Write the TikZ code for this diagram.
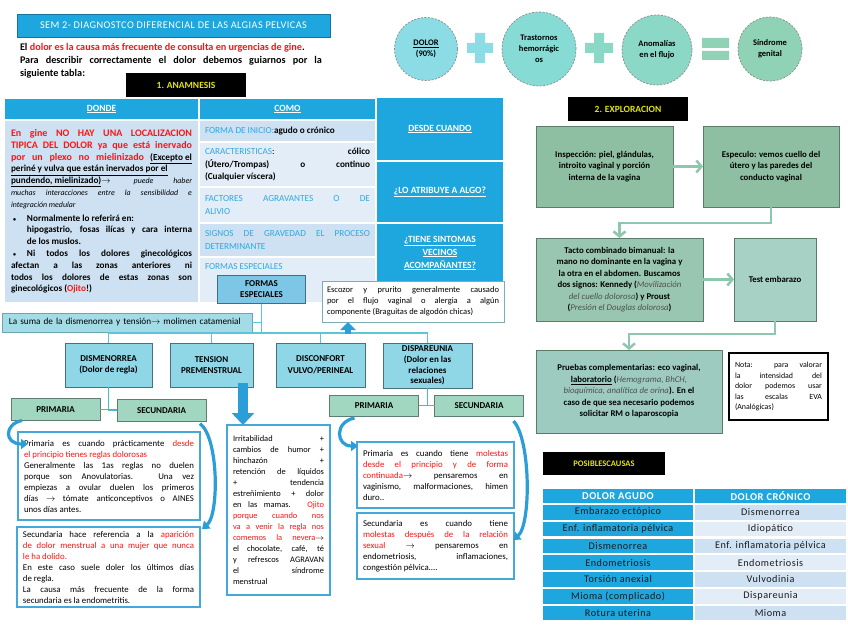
\documentclass[tikz,border=0pt]{standalone}
\usepackage{fontspec}
\setmainfont{Carlito}
\usetikzlibrary{calc, arrows.meta, positioning}
\definecolor{ccyan}{HTML}{1EA6DE}
\definecolor{clight}{HTML}{CDE1F2}
\definecolor{clighter}{HTML}{E3EDF7}
\definecolor{ckey}{HTML}{2BA9E1}
\definecolor{cred}{HTML}{FF1414}
\definecolor{cbox}{HTML}{8FD7E7}
\definecolor{cboxd}{HTML}{47717F}
\definecolor{cgrn}{HTML}{A1D7C1}
\definecolor{cgrnd}{HTML}{5F7E73}
\definecolor{cframe}{HTML}{45A8DA}
\definecolor{cline}{HTML}{5CC6D6}
\definecolor{carr}{HTML}{2B9ED8}
\definecolor{cexp}{HTML}{8EBFA3}
\definecolor{cexpt}{HTML}{98C6B0}
\definecolor{cexpe}{HTML}{A7D1C5}
\definecolor{cexpp}{HTML}{9DCBBF}
\definecolor{cexpd}{HTML}{5A7D68}
\definecolor{cexparr}{HTML}{8DC7AD}
\definecolor{cyel}{HTML}{E5E500}
\definecolor{cformas}{HTML}{7EC6E6}
\definecolor{cformasd}{HTML}{3F6E86}
\definecolor{csuma}{HTML}{A3DCE6}
\definecolor{csumad}{HTML}{6AA8B0}
\definecolor{cesc}{HTML}{7BAEB0}
\definecolor{cgray}{HTML}{505050}
\definecolor{cdash}{HTML}{8A8A8A}
\definecolor{cdark}{HTML}{1B1B1B}
\definecolor{cca}{HTML}{8BDCE5}
\definecolor{ccb}{HTML}{86DBD4}
\definecolor{ccc}{HTML}{8BD8C6}
\definecolor{ccd}{HTML}{90D2B6}
\newcommand{\kw}[1]{\textcolor{ckey}{#1}}
\newcommand{\rd}[1]{\textcolor{cred}{#1}}
\newcommand{\arr}{$\rightarrow$}
\newcommand{\bul}{\makebox[16pt][l]{\hspace{2pt}{\fontsize{6}{6}\selectfont\textbullet}}}
\hyphenpenalty=10000
\exhyphenpenalty=10000
\parindent=0pt

\begin{document}
\begin{tikzpicture}[x=1pt, y=-1pt,
    every node/.style={inner sep=0pt, outer sep=0pt},
    head/.style={fill=ccyan, text=white, font=\fontsize{9.5}{10}\selectfont\bfseries},
    tag/.style={fill=black, text=cyel, font=\fontsize{9.5}{10}\selectfont\bfseries},
    ball/.style={circle, draw=cdash, dash pattern=on 2pt off 1.5pt, line width=0.7pt, align=center, font=\fontsize{8.5}{11}\selectfont\bfseries},
    cell/.style={inner xsep=5pt, align=justify, font=\fontsize{9.2}{12.5}\selectfont},
    branch/.style={fill=cbox, draw=cboxd, line width=0.8pt, align=center, font=\fontsize{9}{11.5}\selectfont\bfseries},
    kind/.style={fill=cgrn, draw=cgrnd, line width=0.8pt, minimum width=89pt, minimum height=22pt, font=\fontsize{9}{10}\selectfont\bfseries},
    note/.style={draw=cframe, line width=1.4pt, fill=white, align=justify, inner xsep=6pt, font=\fontsize{8.8}{11}\selectfont},
    expbox/.style={draw=cexpd, line width=0.8pt, align=center, font=\fontsize{8.8}{11.5}\selectfont\bfseries},
    tree/.style={draw=cline, line width=1.2pt},
    curvarr/.style={draw=carr, line width=3.2pt, -{Triangle[width=10pt,length=7pt]}},
    flow/.style={draw=cexparr, line width=2.5pt, -{Straight Barb[width=12pt,length=5pt]}},
    row/.style={minimum width=150pt, minimum height=14.5pt, text=cdark, font=\fontsize{10.2}{11}\selectfont\addfontfeature{LetterSpace=5}}]
    \useasboundingbox (0,0) rectangle (848,636);
    \fill[white] (0,0) rectangle (848,636);

    % title and intro
    \node (title) [fill=ccyan, draw=ccyan!70!black, line width=0.5pt, text=white, minimum width=313pt, minimum height=23pt, font=\fontsize{10.3}{11}\selectfont\addfontfeature{LetterSpace=4}] at (173.5,25.5) {SEM 2- DIAGNOSTCO DIFERENCIAL DE LAS ALGIAS PELVICAS};
    \node (intro) [anchor=north west, text width=302pt, align=justify, font=\fontsize{10.2}{13}\selectfont\bfseries] at (20,43) {El \rd{dolor es la causa más frecuente de consulta en urgencias de gine}.\par Para describir correctamente el dolor debemos guiarnos por la\linebreak siguiente tabla:};
    \node (anam) [tag, minimum width=120pt, minimum height=24pt] at (186,85) {1. ANAMNESIS};

    % circles
    \node (dolor) [ball, fill=cca, minimum size=63pt] at (426,49) {\underline{DOLOR}\\(90\%)};
    \node (trast) [ball, fill=ccb, minimum size=74pt] at (539,49) {Trastornos\\hemorrágic\\os};
    \node (anom) [ball, fill=ccc, minimum size=70pt] at (657,50) {Anomalías\\en el flujo};
    \node (sindr) [ball, fill=ccd, minimum size=64pt] at (770,49) {Síndrome\\genital};
    \fill[cca] (475,33) rectangle (485,63) (467,43) rectangle (493,53);
    \fill[ccc] (594,33) rectangle (604,63) (585,43) rectangle (613,53);
    \fill[ccd] (702,38) rectangle (729,48) (702,51) rectangle (729,60);

    % anamnesis table
    \node (donde) [head, minimum width=193pt, minimum height=20pt] at (101.5,109) {\underline{DONDE}};
    \node (como) [head, minimum width=175pt, minimum height=20pt] at (287.5,109) {\underline{COMO}};
    \node (dtext) [cell, fill=clight, text width=181pt, minimum width=193pt, minimum height=181pt, font=\fontsize{9.2}{11.8}\selectfont\bfseries] at (101.5,211.5) {{\fontsize{10}{12}\selectfont\color{cred}En gine NO HAY UNA LOCALIZACION\linebreak TIPICA DEL DOLOR ya que está inervado\linebreak por un plexo no mielinizado} \underline{(Excepto el}\linebreak \underline{periné y vulva que están inervados por el}\linebreak \underline{pundendo, mielinizado)}\arr{} {\mdseries\itshape\fontsize{7.9}{11.8}\selectfont puede haber\linebreak muchas interacciones entre la sensibilidad e\linebreak integración medular}\par\vspace{2pt}
    \hangindent=16pt\hangafter=1 \bul Normalmente lo referirá en:\\ hipogastrio, fosas ilícas y cara interna\linebreak de los muslos.\par
    \hangindent=16pt\hangafter=1 \bul Ni todos los dolores ginecológicos\linebreak afectan a las zonas anteriores ni\linebreak todos los dolores de estas zonas son\linebreak ginecológicos (\rd{Ojito}!)};
    \node (c1) [cell, fill=clight, text width=165pt, minimum width=175pt, minimum height=20pt] at (287.5,131) {\kw{FORMA DE INICIO:}\textbf{agudo o crónico}};
    \node (c2) [cell, fill=clighter, text width=165pt, minimum width=175pt, minimum height=43pt] at (287.5,164.5) {\kw{CARACTERISTICAS}: \textbf{cólico}\linebreak \textbf{(Útero/Trompas) o continuo}\linebreak \textbf{(Cualquier víscera)}};
    \node (c3) [cell, fill=clighter, text width=165pt, minimum width=175pt, minimum height=34pt] at (287.5,205) {\kw{FACTORES AGRAVANTES O DE}\linebreak \kw{ALIVIO}};
    \node (c4) [cell, fill=clight, text width=165pt, minimum width=175pt, minimum height=32pt] at (287.5,240) {\kw{SIGNOS DE GRAVEDAD EL PROCESO}\linebreak \kw{DETERMINANTE}};
    \fill[clighter] (200,258) rectangle (375,302);
    \node (c5) [cell, text width=165pt, minimum width=175pt, minimum height=18pt] at (287.5,267) {\kw{FORMAS ESPECIALES}};
    \node (q1) [head, minimum width=126pt, minimum height=62pt] at (440,129) {\underline{DESDE CUANDO}};
    \node (q2) [head, minimum width=126pt, minimum height=60pt] at (440,192) {\underline{¿LO ATRIBUYE A ALGO?}};
    \node (q3) [head, minimum width=126pt, minimum height=58pt, align=center, font=\fontsize{9.5}{13}\selectfont\bfseries] at (440,253) {\underline{¿TIENE SINTOMAS}\\\underline{VECINOS}\\\underline{ACOMPAÑANTES?}};

    % formas especiales tree
    \node (formas) [fill=cformas, draw=cformasd, line width=0.8pt, minimum width=88pt, minimum height=28pt, align=center, font=\fontsize{9}{11}\selectfont\bfseries] at (261.5,289.5) {FORMAS\\ESPECIALES};
    \node (esc) [draw=cesc, line width=1pt, fill=white, minimum width=182pt, minimum height=41pt, text width=172pt, align=justify, font=\fontsize{8.5}{11}\selectfont] at (413,301.5) {Escozor y prurito generalmente causado\linebreak por el flujo vaginal o alergia a algún\linebreak componente (Braguitas de algodón chicas)};
    \node (suma) [fill=csuma, draw=csumad, line width=0.8pt, minimum width=250pt, minimum height=19pt, text width=236pt, align=left, font=\fontsize{9.2}{10}\selectfont] at (127,322.5) {La suma de la dismenorrea y tensión\arr{} molimen catamenial};
    \node (dism) [branch, minimum width=87pt, minimum height=44pt] at (108.5,365) {DISMENORREA\\(Dolor de regla)};
    \node (tens) [branch, minimum width=83pt, minimum height=44pt] at (211.5,365) {TENSION\\PREMENSTRUAL};
    \node (disc) [branch, minimum width=89pt, minimum height=44pt] at (320.5,365) {DISCONFORT\\VULVO/PERINEAL};
    \node (disp) [branch, minimum width=89pt, minimum height=45pt, font=\fontsize{9}{10.6}\selectfont\bfseries] at (427.5,365.5) {DISPAREUNIA\\(Dolor en las\\relaciones\\sexuales)};
    \coordinate (bar) at (261.5,333);
    \draw[tree] (formas) -- (bar);
    \draw[tree] (suma.east) -- (suma.east -| bar);
    \foreach \b in {dism, tens, disc, disp} \draw[tree] (\b.north) |- (bar);
    \coordinate (escfoot) at (348,334);
    \draw[draw=carr, line width=6pt, -{Triangle[width=15pt,length=8pt]}] (escfoot) -- (escfoot |- esc.south);

    \node (pm1) [kind] at (55.5,409.5) {PRIMARIA};
    \node (sc1) [kind] at (161.5,410.5) {SECUNDARIA};
    \node (pm2) [kind, minimum height=21pt] at (374,405.5) {PRIMARIA};
    \node (sc2) [kind, minimum height=21pt] at (479,405.5) {SECUNDARIA};
    \draw[tree, draw=cline!80!teal] (dism.south) |- (sc1.west);
    \draw[tree, draw=cline!80!teal] (pm1.east) -- (sc1.west |- pm1.east);
    \draw[tree, draw=cline!80!teal] (disp.south) -- (disp.south |- pm2.east);
    \draw[tree, draw=cline!80!teal] (pm2.east) -- (sc2.west);

    % text boxes
    \node (b1) [note, minimum width=182pt, minimum height=88pt, text width=170pt] at (109,476) {Primaria es cuando prácticamente \rd{desde}\linebreak \rd{el principio tienes reglas dolorosas}\par Generalmente las 1as reglas no duelen\linebreak porque son Anovulatorias. Una vez\linebreak empiezas a ovular duelen los primeros\linebreak días \arr{} tómate anticonceptivos o AINES\linebreak unos días antes.};
    \node (b2) [note, minimum width=183pt, minimum height=80pt, text width=171pt] at (108.5,567) {Secundaria hace referencia a la \rd{aparición}\linebreak \rd{de dolor menstrual a una mujer que nunca}\linebreak \rd{le ha dolido.}\par En este caso suele doler los últimos días\linebreak de regla.\par La causa más frecuente de la forma\linebreak secundaria es la endometritis.};
    \node (bt) [note, minimum width=103pt, minimum height=170pt, text width=91pt, font=\fontsize{8.4}{11}\selectfont] at (278.5,510) {Irritabilidad +\linebreak cambios de humor +\linebreak hinchazón +\linebreak retención de líquidos\linebreak + tendencia\linebreak estreñimiento + dolor\linebreak en las mamas. \rd{Ojito}\linebreak \rd{porque cuando nos}\linebreak \rd{va a venir la regla nos}\linebreak \rd{comemos la nevera}\arr\linebreak el chocolate, café, té\linebreak y refrescos AGRAVAN\linebreak el síndrome\linebreak menstrual};
    \node (b3) [note, minimum width=157pt, minimum height=66pt, text width=145pt] at (435.5,475) {Primaria es cuando tiene \rd{molestas}\linebreak \rd{desde el principio y de forma}\linebreak \rd{continuada}\arr{} pensaremos en\linebreak vaginismo, malformaciones, himen\linebreak duro..};
    \node (b4) [note, minimum width=157pt, minimum height=66pt, text width=145pt] at (435.5,546) {Secundaria es cuando tiene\linebreak \rd{molestas después de la relación}\linebreak \rd{sexual} \arr{} pensaremos en\linebreak endometriosis, inflamaciones,\linebreak congestión pélvica....};
    \coordinate (tfoot) at (243,383);
    \draw[draw=carr, -{Triangle[width=22pt,length=12pt]}, line width=10pt] (tfoot) -- (tfoot |- bt.north);
    \draw[curvarr] ($(pm1.south west)+(11,0)$) .. controls (4,424) and (4,444) .. ($(b1.north west)+(10,12)$);
    \draw[curvarr] ($(sc1.south east)+(-6,2)$) .. controls (219,438) and (219,515) .. ($(b2.north east)+(2,2)$);
    \draw[curvarr] ($(pm2.south west)+(25,2)$) .. controls (334,422) and (336,446) .. ($(b3.north west)+(1,4)$);
    \draw[curvarr] ($(sc2.south east)+(-10,5)$) .. controls (531,440) and (531,525) .. ($(b4.north east)+(-1,27)$);

    % exploracion
    \node (expl) [tag, minimum width=120pt, minimum height=24pt] at (628,109) {2. EXPLORACION};
    \node (insp) [expbox, fill=cexp, minimum width=137pt, minimum height=81pt] at (604.5,166.5) {Inspección: piel, glándulas,\\introito vaginal y porción\\interna de la vagina};
    \node (espe) [expbox, fill=cexp, minimum width=136pt, minimum height=81pt] at (771,166.5) {Especulo: vemos cuello del\\útero y las paredes del\\conducto vaginal};
    \node (tacto) [expbox, fill=cexpt, minimum width=167pt, minimum height=83pt] at (619.5,279.5) {Tacto combinado bimanual: la\\mano no dominante en la vagina y\\la otra en el abdomen. Buscamos\\dos signos: Kennedy ({\color{cgray}\mdseries\itshape Movilización}\\{\color{cgray}\mdseries\itshape del cuello dolorosa}) y Proust\\({\color{cgray}\mdseries\itshape Presión el Douglas dolorosa})};
    \node (test) [expbox, fill=cexpe, minimum width=82pt, minimum height=83pt] at (775,279.5) {Test embarazo};
    \node (prue) [expbox, fill=cexpp, minimum width=186pt, minimum height=83pt] at (629,391.5) {Pruebas complementarias: eco vaginal,\\\underline{laboratorio} ({\color{cgray}\mdseries\itshape Hemograma, BhCH,}\\{\color{cgray}\mdseries\itshape bioquímica, analítica de orina}). En el\\caso de que sea necesario podemos\\solicitar RM o laparoscopia};
    \node (nota) [draw=black, line width=1.2pt, fill=white, minimum width=99pt, minimum height=67pt, text width=87pt, align=justify, font=\fontsize{7.9}{10.5}\selectfont] at (778.5,386.5) {Nota: para valorar\linebreak la intensidad del\linebreak dolor podemos usar\linebreak las escalas EVA\linebreak (Analógicas)};
    \draw[flow] (insp) -- (espe);
    \draw[flow] (espe.south) -- ++(0,16) -| (tacto.north);
    \draw[flow] (tacto) -- (test);
    \draw[flow] (test.south) -- ++(0,13) -| (prue.north);

    % posibles causas
    \node (causas) [tag, minimum width=122pt, minimum height=23pt, font=\fontsize{8.5}{9}\selectfont\bfseries] at (604,463.5) {POSIBLESCAUSAS};
    \node (hag) [head, minimum width=150pt, minimum height=14pt, font=\fontsize{10.5}{11}\selectfont\bfseries\addfontfeature{LetterSpace=5}] at (618,496) {DOLOR AGUDO};
    \node (hcr) [head, minimum width=151pt, minimum height=14pt, font=\fontsize{10.5}{11}\selectfont\bfseries\addfontfeature{LetterSpace=5}] at (770.5,496) {DOLOR CRÓNICO};
    \foreach \ag/\cro/\col [count=\i from 0] in {Embarazo ectópico/Dismenorrea/clight, Enf. inflamatoria pélvica/Idiopático/clighter, Dismenorrea/Enf. inflamatoria pélvica/clight, Endometriosis/Endometriosis/clighter, Torsión anexial/Vulvodinia/clight, Mioma (complicado)/Dispareunia/clighter, Rotura uterina/Mioma/clight}
    {
        \node (ag\i) [row, fill=ccyan] at (618,{512.25+16.8*\i}) {\ag};
        \node (cr\i) [row, fill=\col, minimum width=151pt] at (770.5,{512.25+16.8*\i}) {\cro};
    }
\end{tikzpicture}
\end{document}
